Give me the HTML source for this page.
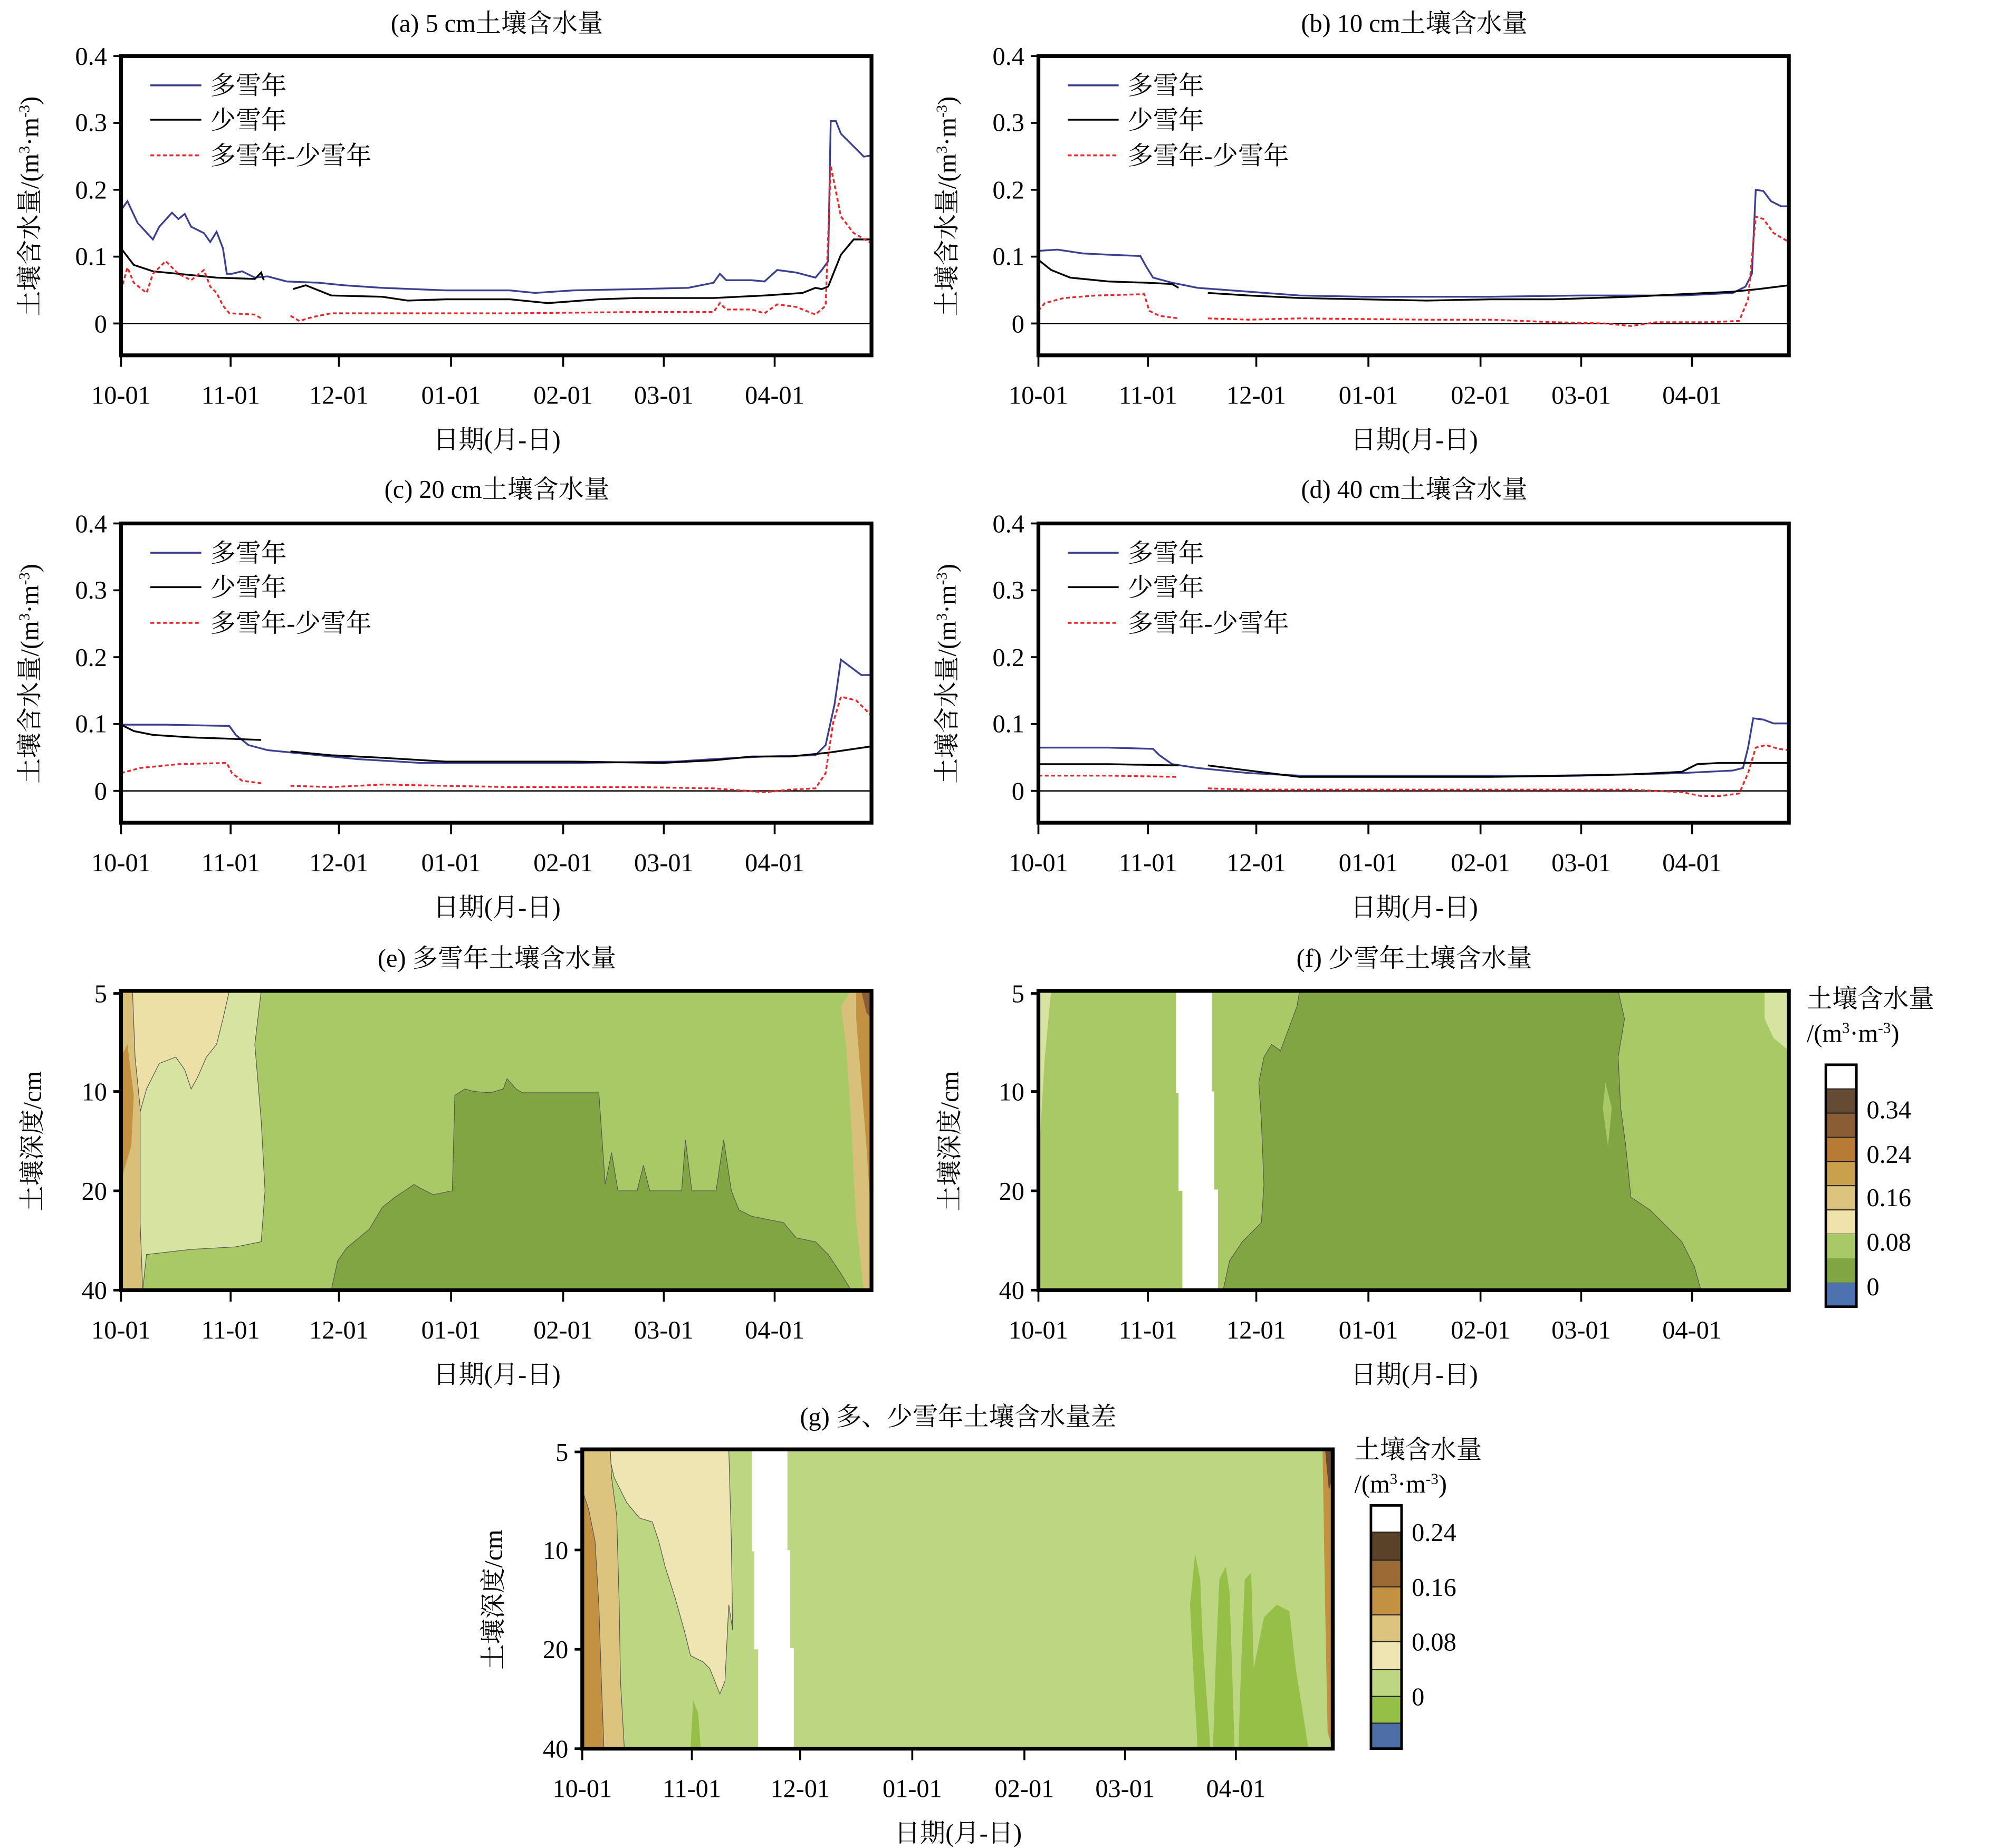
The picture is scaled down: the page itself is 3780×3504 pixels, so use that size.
<!DOCTYPE html>
<html><head><meta charset="utf-8"><style>html,body{margin:0;padding:0;background:#fff}svg{display:block}</style></head><body>
<svg xmlns="http://www.w3.org/2000/svg" width="3780" height="3504" viewBox="0 0 1565 1451" preserveAspectRatio="none" font-family="'Liberation Serif','Noto Serif CJK SC',serif" font-size="20">
<defs>
<g id="xt">
<line x1="95" y1="0" x2="95" y2="9" stroke="#000" stroke-width="1.5"/><line x1="181" y1="0" x2="181" y2="9" stroke="#000" stroke-width="1.5"/><line x1="266" y1="0" x2="266" y2="9" stroke="#000" stroke-width="1.5"/><line x1="354" y1="0" x2="354" y2="9" stroke="#000" stroke-width="1.5"/><line x1="442" y1="0" x2="442" y2="9" stroke="#000" stroke-width="1.5"/><line x1="521" y1="0" x2="521" y2="9" stroke="#000" stroke-width="1.5"/><line x1="608" y1="0" x2="608" y2="9" stroke="#000" stroke-width="1.5"/>
<g text-anchor="middle"><text x="95" y="38">10-01</text><text x="181" y="38">11-01</text><text x="266" y="38">12-01</text><text x="354" y="38">01-01</text><text x="442" y="38">02-01</text><text x="521" y="38">03-01</text><text x="608" y="38">04-01</text><text x="390" y="73">日期(月-日)</text></g>
</g>
<g id="yt" text-anchor="end">
<g stroke="#000" stroke-width="1.5"><line x1="89" y1="44" x2="95" y2="44"/><line x1="89" y1="96.5" x2="95" y2="96.5"/><line x1="89" y1="149" x2="95" y2="149"/><line x1="89" y1="201.5" x2="95" y2="201.5"/><line x1="89" y1="254" x2="95" y2="254"/></g>
<text x="84" y="51">0.4</text><text x="84" y="103">0.3</text><text x="84" y="156">0.2</text><text x="84" y="208">0.1</text><text x="84" y="261">0</text>
<text transform="translate(30,162) rotate(-90)" text-anchor="middle">土壤含水量/(m<tspan font-size="12" dy="-7">3</tspan><tspan dy="7">·m</tspan><tspan font-size="12" dy="-7">-3</tspan><tspan dy="7">)</tspan></text>
<g text-anchor="start"><line x1="118" y1="67" x2="158" y2="67" stroke="#3b3f8f" stroke-width="1.5"/><text x="165" y="74">多雪年</text>
<line x1="118" y1="94" x2="158" y2="94" stroke="#000" stroke-width="1.5"/><text x="165" y="101">少雪年</text>
<line x1="118" y1="122" x2="158" y2="122" stroke="#e8262b" stroke-width="1.5" stroke-dasharray="3,2"/><text x="165" y="129">多雪年-少雪年</text></g>
<line x1="95" y1="254" x2="684" y2="254" stroke="#000" stroke-width="1"/>
</g>
<g id="dt" text-anchor="end">
<g stroke="#000" stroke-width="2"><line x1="89" y1="780" x2="95" y2="780"/><line x1="89" y1="857" x2="95" y2="857"/><line x1="89" y1="935" x2="95" y2="935"/><line x1="89" y1="1013" x2="95" y2="1013"/></g>
<text x="84" y="787">5</text><text x="84" y="864">10</text><text x="84" y="942">20</text><text x="84" y="1020">40</text>
<text transform="translate(32,896) rotate(-90)" text-anchor="middle">土壤深度/cm</text>
</g>
</defs>

<!-- Panel a -->
<text x="390" y="25" text-anchor="middle">(a) 5 cm土壤含水量</text>
<use href="#yt"/>
<g fill="none" stroke-width="1.4">
<polyline stroke="#3b3f8f" points="95,165 100,158 108,175 120,188 125,178 135,167 140,172 145,168 150,178 160,183 165,190 170,182 175,195 178,215 182,215 190,213 200,218 210,217 225,221 250,222 270,224 300,226 350,228 400,228 420,230 450,228 500,227 540,226 560,222 565,215 570,220 590,220 600,221 610,212 625,214 640,218 645,212 650,205 652,95 656,95 660,105 670,115 678,123 684,122"/>
<polyline stroke="#000" points="95,195 105,208 120,213 150,216 170,218 200,219 205,214 207,220"/>
<polyline stroke="#000" points="230,227 240,224 250,228 260,232 300,233 320,236 350,235 400,235 430,238 470,235 500,234 560,234 600,232 630,230 640,226 645,227 650,225 660,200 670,188 684,188"/>
<polyline stroke="#e8262b" stroke-dasharray="3,2" points="95,228 100,210 105,222 115,230 120,215 130,205 140,215 150,220 160,212 165,225 170,230 175,240 180,246 200,247 205,250"/>
<polyline stroke="#e8262b" stroke-dasharray="3,2" points="228,248 235,252 245,249 260,246 300,246 350,246 400,246 500,245 560,245 565,238 570,243 590,243 600,246 610,239 625,241 640,247 648,240 652,130 660,170 670,183 684,191"/>
</g>
<rect x="95" y="44" width="589" height="235" fill="none" stroke="#000" stroke-width="3"/>
<use href="#xt" transform="translate(0,279)"/>

<!-- Panel b -->
<g transform="translate(720,0)">
<text x="390" y="25" text-anchor="middle">(b) 10 cm土壤含水量</text>
<use href="#yt"/>
<g fill="none" stroke-width="1.4">
<polyline stroke="#3b3f8f" points="95,197 110,196 130,199 150,200 175,201 180,210 185,218 200,222 220,226 260,229 300,232 350,233 450,233 520,232 600,232 640,230 650,225 655,215 658,149 664,150 670,158 678,162 684,162"/>
<polyline stroke="#000" points="95,204 105,212 120,218 150,221 180,222 200,223 205,226"/>
<polyline stroke="#000" points="228,230 260,232 300,234 350,235 400,236 450,235 500,235 560,233 620,230 640,229 660,227 684,224"/>
<polyline stroke="#e8262b" stroke-dasharray="3,2" points="95,244 100,238 115,234 140,232 178,231 182,244 190,248 205,250"/>
<polyline stroke="#e8262b" stroke-dasharray="3,2" points="228,250 260,251 300,250 400,251 450,251 500,253 540,254 560,256 580,253 620,253 645,252 652,235 658,170 664,172 672,183 684,190"/>
</g>
<rect x="95" y="44" width="589" height="235" fill="none" stroke="#000" stroke-width="3"/>
<use href="#xt" transform="translate(0,279)"/>
</g>

<!-- Panel c -->
<g transform="translate(0,367)">
<text x="390" y="24" text-anchor="middle">(c) 20 cm土壤含水量</text>
<use href="#yt"/>
<g fill="none" stroke-width="1.4">
<polyline stroke="#3b3f8f" points="95,202 130,202 180,203 185,210 195,218 210,222 240,225 280,229 330,232 450,232 530,231 560,229 600,227 640,226 648,218 655,186 660,151 668,157 676,163 684,163"/>
<polyline stroke="#000" points="95,202 105,207 120,210 150,212 180,213 205,214"/>
<polyline stroke="#000" points="228,223 260,226 300,228 350,231 450,231 520,232 560,230 590,227 620,227 650,224 684,219"/>
<polyline stroke="#e8262b" stroke-dasharray="3,2" points="95,240 110,236 140,233 178,232 182,240 190,246 205,248"/>
<polyline stroke="#e8262b" stroke-dasharray="3,2" points="228,250 260,251 300,249 400,251 500,251 560,252 600,255 620,253 640,252 648,240 654,200 660,180 672,183 684,195"/>
</g>
<rect x="95" y="44" width="589" height="235" fill="none" stroke="#000" stroke-width="3"/>
<use href="#xt" transform="translate(0,279)"/>
</g>

<!-- Panel d -->
<g transform="translate(720,367)">
<text x="390" y="24" text-anchor="middle">(d) 40 cm土壤含水量</text>
<use href="#yt"/>
<g fill="none" stroke-width="1.4">
<polyline stroke="#3b3f8f" points="95,220 150,220 185,221 190,226 200,233 220,236 260,240 300,242 400,242 500,242 560,241 600,240 640,238 648,236 652,220 656,197 664,198 672,201 684,201"/>
<polyline stroke="#000" points="95,233 150,233 205,234"/>
<polyline stroke="#000" points="228,234 260,238 300,243 350,243 450,243 520,242 560,241 600,239 612,233 630,232 684,232"/>
<polyline stroke="#e8262b" stroke-dasharray="3,2" points="95,242 150,242 205,243"/>
<polyline stroke="#e8262b" stroke-dasharray="3,2" points="228,252 260,253 300,253 450,253 560,253 600,255 615,258 630,258 645,256 652,240 658,220 666,218 676,221 684,222"/>
</g>
<rect x="95" y="44" width="589" height="235" fill="none" stroke="#000" stroke-width="3"/>
<use href="#xt" transform="translate(0,279)"/>
</g>

<!-- Panel e -->
<text x="390" y="759" text-anchor="middle">(e) 多雪年土壤含水量</text>
<rect x="95" y="778" width="589" height="235" fill="#a8c965"/>
<polygon fill="#d7e3a0" stroke="#555" stroke-width="0.5" points="100,778 205,778 200,820 205,880 208,935 205,975 185,979 150,981 115,985 112,1013 100,1013"/>
<polygon fill="#ede0a6" stroke="#555" stroke-width="0.5" points="102,778 180,778 175,800 170,820 162,830 155,846 150,855 145,840 138,830 125,835 115,855 108,880 104,900"/>
<polygon fill="#d9c07a" stroke="#555" stroke-width="0.5" points="95,778 104,778 106,830 110,870 110,960 112,1013 95,1013"/>
<polygon fill="#c39142" points="95,830 100,820 105,860 103,900 97,920 95,930"/>
<polygon fill="#82a544" stroke="#555" stroke-width="0.5" points="260,1013 265,990 272,980 290,965 300,948 310,940 325,930 330,933 340,938 355,935 357,860 365,855 372,857 385,858 395,855 398,847 405,855 410,858 470,858 475,930 480,905 485,935 500,935 505,915 510,935 535,935 538,895 543,935 562,935 568,895 574,935 580,950 590,955 615,960 625,972 640,975 650,985 660,1000 668,1013"/>
<polygon fill="#d9c07a" points="668,778 684,778 684,1013 678,1013 672,960 668,880 664,820 660,790"/>
<polygon fill="#c39142" points="672,778 684,778 684,960 680,900 676,850 672,800"/>
<polygon fill="#8b5d34" points="676,778 684,778 684,800 680,795"/>
<rect x="95" y="778" width="589" height="235" fill="none" stroke="#000" stroke-width="3"/>
<use href="#dt"/>
<use href="#xt" transform="translate(0,1013)"/>

<!-- Panel f -->
<g transform="translate(720,0)">
<text x="390" y="759" text-anchor="middle">(f) 少雪年土壤含水量</text>
<rect x="95" y="778" width="589" height="235" fill="#a8c965"/>
<polygon fill="#d7e3a0" points="95,778 105,778 100,830 97,880 95,915"/>
<polygon fill="#82a544" stroke="#555" stroke-width="0.5" points="300,778 550,778 555,800 550,830 552,870 556,900 560,940 575,950 585,960 600,975 610,995 615,1013 240,1013 245,990 255,975 270,960 272,930 270,880 268,850 272,830 278,820 285,825 298,790"/>
<polygon fill="#a8c965" points="540,850 545,870 542,900 538,870"/>
<polygon fill="#d7e3a0" points="665,778 684,778 684,825 672,815 665,800"/>
<rect x="203" y="778" width="28" height="80" fill="#fff"/><rect x="205" y="857" width="28" height="78" fill="#fff"/><rect x="208" y="934" width="28" height="79" fill="#fff"/>
<rect x="95" y="778" width="589" height="235" fill="none" stroke="#000" stroke-width="3"/>
<use href="#dt"/>
<use href="#xt" transform="translate(0,1013)"/>
</g>
<!-- Colorbar e/f -->
<text x="1418" y="791">土壤含水量</text>
<text x="1418" y="818">/(m<tspan font-size="12" dy="-7">3</tspan><tspan dy="7">·m</tspan><tspan font-size="12" dy="-7">-3</tspan><tspan dy="7">)</tspan></text>
<g stroke="#222" stroke-width="0.8">
<rect x="1433" y="836" width="24" height="19" fill="#fff"/>
<rect x="1433" y="855" width="24" height="19" fill="#654a34"/>
<rect x="1433" y="874" width="24" height="19" fill="#8b5d34"/>
<rect x="1433" y="893" width="24" height="19" fill="#b77b35"/>
<rect x="1433" y="912" width="24" height="19" fill="#c9a04c"/>
<rect x="1433" y="931" width="24" height="19" fill="#dcc47f"/>
<rect x="1433" y="950" width="24" height="19" fill="#efe2aa"/>
<rect x="1433" y="969" width="24" height="19" fill="#d7e3a0"/>
<rect x="1433" y="988" width="24" height="19" fill="#a8c965"/>
<rect x="1433" y="1007" width="24" height="19" fill="#82a544"/>
</g>
<rect x="1433" y="1007" width="24" height="19" fill="#4e72b0"/>
<rect x="1433" y="988" width="24" height="19" fill="#82a544"/>
<rect x="1433" y="969" width="24" height="19" fill="#a8c965"/>
<rect x="1433" y="836" width="24" height="190" fill="none" stroke="#000" stroke-width="2"/>
<text x="1465" y="878">0.34</text><text x="1465" y="913">0.24</text><text x="1465" y="947">0.16</text><text x="1465" y="982">0.08</text><text x="1465" y="1017">0</text>

<!-- Panel g -->
<g transform="translate(362,360)">
<text x="390" y="759" text-anchor="middle">(g) 多、少雪年土壤含水量差</text>
<rect x="95" y="778" width="589" height="235" fill="#bcd682"/>
<polygon fill="#efe5b3" stroke="#555" stroke-width="0.5" points="115,778 210,778 212,850 213,920 210,900 207,960 203,970 195,950 190,945 180,940 175,920 168,895 160,870 155,850 150,835 140,832 130,820 125,810 120,800"/>
<polygon fill="#dcc47f" stroke="#555" stroke-width="0.5" points="95,778 117,778 118,800 122,830 124,900 125,960 128,1013 95,1013"/>
<polygon fill="#c39142" stroke="#555" stroke-width="0.5" points="95,810 100,825 105,850 108,900 110,960 112,1013 95,1013"/>
<polygon fill="#96bf48" points="578,1013 575,960 572,900 576,860 580,880 582,930 588,1013"/>
<polygon fill="#96bf48" points="590,1013 592,950 595,880 600,870 603,890 605,950 607,1013"/>
<polygon fill="#96bf48" points="610,1013 612,950 615,880 620,875 622,950 630,910 640,900 650,905 655,950 665,1013"/>
<polygon fill="#96bf48" points="180,1013 182,975 186,985 188,1013"/>
<polygon fill="#c39142" points="676,778 684,778 684,1013 680,1000 678,900"/>
<polygon fill="#654a34" points="678,778 684,778 684,800 681,810"/>
<rect x="228" y="778" width="28" height="80" fill="#fff"/><rect x="230" y="857" width="28" height="78" fill="#fff"/><rect x="233" y="934" width="28" height="79" fill="#fff"/>
<rect x="95" y="778" width="589" height="235" fill="none" stroke="#000" stroke-width="3"/>
<use href="#dt"/>
<use href="#xt" transform="translate(0,1013)"/>
</g>
<!-- Colorbar g -->
<text x="1063" y="1145">土壤含水量</text>
<text x="1063" y="1172">/(m<tspan font-size="12" dy="-7">3</tspan><tspan dy="7">·m</tspan><tspan font-size="12" dy="-7">-3</tspan><tspan dy="7">)</tspan></text>
<g stroke="#222" stroke-width="0.8">
<rect x="1076" y="1182" width="24" height="21" fill="#fff"/>
<rect x="1076" y="1203" width="24" height="22" fill="#5a4229"/>
<rect x="1076" y="1225" width="24" height="21" fill="#9b6a35"/>
<rect x="1076" y="1246" width="24" height="22" fill="#c39142"/>
<rect x="1076" y="1268" width="24" height="21" fill="#dcc47f"/>
<rect x="1076" y="1289" width="24" height="22" fill="#efe5b3"/>
<rect x="1076" y="1311" width="24" height="21" fill="#bcd682"/>
<rect x="1076" y="1332" width="24" height="21" fill="#96bf48"/>
<rect x="1076" y="1353" width="24" height="20" fill="#4e6ea8"/>
</g>
<rect x="1076" y="1182" width="24" height="191" fill="none" stroke="#000" stroke-width="2"/>
<text x="1108" y="1210">0.24</text><text x="1108" y="1253">0.16</text><text x="1108" y="1296">0.08</text><text x="1108" y="1339">0</text>
</svg>
</body></html>
